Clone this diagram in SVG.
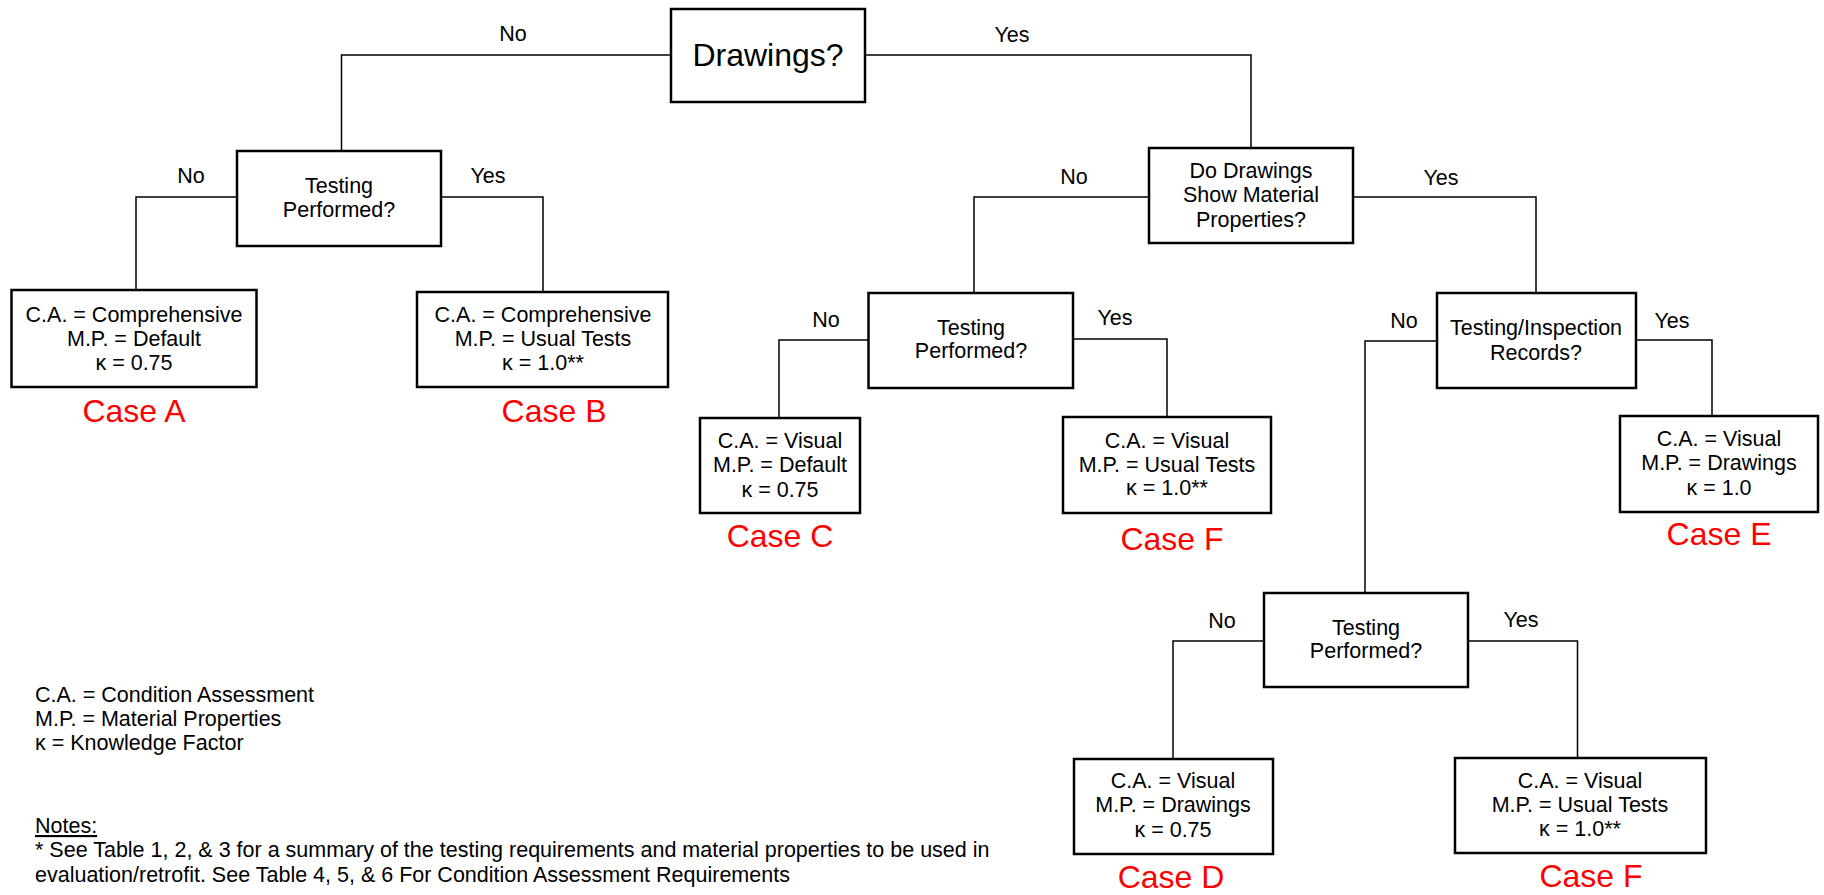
<svg xmlns="http://www.w3.org/2000/svg" width="1824" height="895" viewBox="0 0 1824 895">
<style>
.box{fill:#fff;stroke:#000;stroke-width:2.5}
.ln{fill:none;stroke:#000;stroke-width:1.5}
text{font-family:"Liberation Sans",Arial,sans-serif;font-size:21.5px;fill:#000}
.c{text-anchor:middle}
.big{font-size:32px}
.case{font-size:32px;fill:#ff0000;text-anchor:middle}
</style>
<rect width="1824" height="895" fill="#fff"/>
<g id="connectors">
<polyline class="ln" points="671,55 341.5,55 341.5,151"/>
<polyline class="ln" points="865,55 1251,55 1251,148"/>
<polyline class="ln" points="237,197 136,197 136,290"/>
<polyline class="ln" points="441,197 543,197 543,292"/>
<polyline class="ln" points="1149,197 974,197 974,293"/>
<polyline class="ln" points="1353,197 1536,197 1536,293"/>
<polyline class="ln" points="868,340 779,340 779,418"/>
<polyline class="ln" points="1073,339 1167,339 1167,417"/>
<polyline class="ln" points="1437,341 1365,341 1365,593"/>
<polyline class="ln" points="1636,340 1712,340 1712,416"/>
<polyline class="ln" points="1264,641 1173,641 1173,759"/>
<polyline class="ln" points="1468,641 1577.5,641 1577.5,758"/>
</g>
<g id="edge-labels">
<text class="c" x="513" y="41">No</text>
<text class="c" x="1012" y="42">Yes</text>
<text class="c" x="191" y="183">No</text>
<text class="c" x="488" y="183">Yes</text>
<text class="c" x="1074" y="184">No</text>
<text class="c" x="1441" y="185">Yes</text>
<text class="c" x="826" y="327">No</text>
<text class="c" x="1115" y="325">Yes</text>
<text class="c" x="1404" y="328">No</text>
<text class="c" x="1672" y="328">Yes</text>
<text class="c" x="1222" y="628">No</text>
<text class="c" x="1521" y="627">Yes</text>
</g>
<g id="n-drawings">
<rect class="box" x="671" y="9" width="194" height="93"/>
<text class="c big" x="768" y="66">Drawings?</text>
</g>
<g id="n-testing1">
<rect class="box" x="237" y="151" width="204" height="95"/>
<text class="c" x="339" y="193">Testing</text>
<text class="c" x="339" y="217">Performed?</text>
</g>
<g id="n-dodrawings">
<rect class="box" x="1149" y="148" width="204" height="95"/>
<text class="c" x="1251" y="178">Do Drawings</text>
<text class="c" x="1251" y="202">Show Material</text>
<text class="c" x="1251" y="227">Properties?</text>
</g>
<g id="n-testing2">
<rect class="box" x="868.5" y="293" width="204.5" height="95"/>
<text class="c" x="971" y="335">Testing</text>
<text class="c" x="971" y="358">Performed?</text>
</g>
<g id="n-records">
<rect class="box" x="1437" y="293" width="199" height="95"/>
<text class="c" x="1536" y="335">Testing/Inspection</text>
<text class="c" x="1536" y="360">Records?</text>
</g>
<g id="n-testing3">
<rect class="box" x="1264" y="593" width="204" height="94"/>
<text class="c" x="1366" y="635">Testing</text>
<text class="c" x="1366" y="658">Performed?</text>
</g>
<g id="n-caseA">
<rect class="box" x="11.5" y="290" width="245" height="97"/>
<text class="c" x="134" y="322">C.A. = Comprehensive</text>
<text class="c" x="134" y="346">M.P. = Default</text>
<text class="c" x="134" y="370">κ = 0.75</text>
<text class="case" x="134" y="422">Case A</text>
</g>
<g id="n-caseB">
<rect class="box" x="417" y="292" width="251" height="95"/>
<text class="c" x="543" y="322">C.A. = Comprehensive</text>
<text class="c" x="543" y="346">M.P. = Usual Tests</text>
<text class="c" x="543" y="370">κ = 1.0**</text>
<text class="case" x="554" y="422">Case B</text>
</g>
<g id="n-caseC">
<rect class="box" x="700" y="418" width="160" height="95"/>
<text class="c" x="780" y="448">C.A. = Visual</text>
<text class="c" x="780" y="472">M.P. = Default</text>
<text class="c" x="780" y="497">κ = 0.75</text>
<text class="case" x="780" y="547">Case C</text>
</g>
<g id="n-caseF1">
<rect class="box" x="1063" y="417" width="208" height="96"/>
<text class="c" x="1167" y="448">C.A. = Visual</text>
<text class="c" x="1167" y="472">M.P. = Usual Tests</text>
<text class="c" x="1167" y="495">κ = 1.0**</text>
<text class="case" x="1172" y="550">Case F</text>
</g>
<g id="n-caseE">
<rect class="box" x="1620" y="416" width="198" height="96"/>
<text class="c" x="1719" y="446">C.A. = Visual</text>
<text class="c" x="1719" y="470">M.P. = Drawings</text>
<text class="c" x="1719" y="495">κ = 1.0</text>
<text class="case" x="1719" y="545">Case E</text>
</g>
<g id="n-caseD">
<rect class="box" x="1074" y="759" width="199" height="95"/>
<text class="c" x="1173" y="788">C.A. = Visual</text>
<text class="c" x="1173" y="812">M.P. = Drawings</text>
<text class="c" x="1173" y="837">κ = 0.75</text>
<text class="case" x="1171" y="888">Case D</text>
</g>
<g id="n-caseF2">
<rect class="box" x="1455" y="758" width="251" height="95"/>
<text class="c" x="1580" y="788">C.A. = Visual</text>
<text class="c" x="1580" y="812">M.P. = Usual Tests</text>
<text class="c" x="1580" y="836">κ = 1.0**</text>
<text class="case" x="1591" y="887">Case F</text>
</g>
<g id="legend">
<text x="35" y="702">C.A. = Condition Assessment</text>
<text x="35" y="726">M.P. = Material Properties</text>
<text x="35" y="750">κ = Knowledge Factor</text>
</g>
<g id="notes">
<text x="35" y="833" text-decoration="underline">Notes:</text>
<text x="35" y="857">* See Table 1, 2, &amp; 3 for a summary of the testing requirements and material properties to be used in</text>
<text x="35" y="882">evaluation/retrofit. See Table 4, 5, &amp; 6 For Condition Assessment Requirements</text>
</g>
</svg>
